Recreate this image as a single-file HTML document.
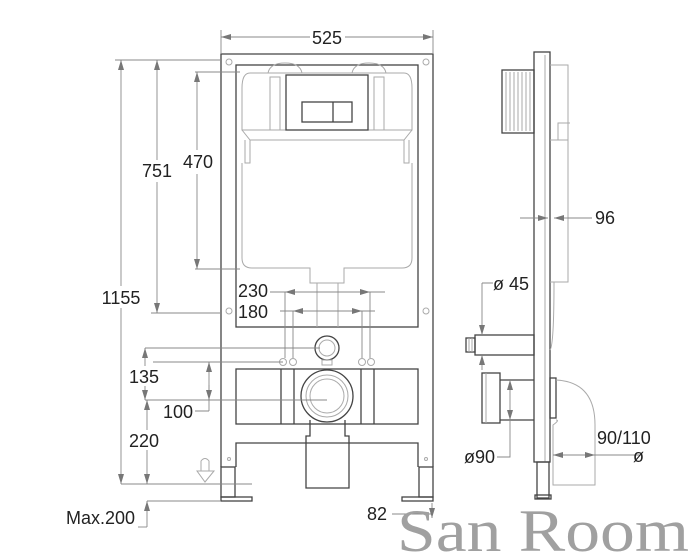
<!DOCTYPE html>
<html><head><style>
html,body{margin:0;padding:0;background:#fff;}
svg{display:block;font-family:"Liberation Sans","DejaVu Sans",sans-serif;}
.f{fill:none;stroke:#444;stroke-width:1.3}
.t{fill:none;stroke:#aaa;stroke-width:1}
.d{fill:none;stroke:#888;stroke-width:0.9}
text{fill:#222;font-size:18px}
</style></head><body>
<svg width="697" height="558" viewBox="0 0 697 558" xmlns="http://www.w3.org/2000/svg">
<defs>
<marker id="a" viewBox="0 0 10 6" refX="10" refY="3" markerWidth="10" markerHeight="6" orient="auto-start-reverse" markerUnits="userSpaceOnUse"><path d="M0,0L10,3L0,6z" fill="#777"/></marker>
</defs>

<!-- FRONT FRAME -->
<path class="f" d="M221,467V54H433V467"/>
<rect class="f" x="236" y="65" width="182" height="262"/>
<path class="f" d="M236,467V443H418V467"/>
<rect class="f" x="221" y="467" width="14" height="30"/><rect class="f" x="221" y="497" width="31" height="4"/>
<rect class="f" x="419" y="467" width="14" height="30"/><rect class="f" x="402" y="497" width="31" height="4"/>
<g class="t"><circle cx="229" cy="62" r="3"/><circle cx="426" cy="62" r="3"/><circle cx="229" cy="311" r="3"/><circle cx="426" cy="311" r="3"/><circle cx="229" cy="459" r="1.5"/><circle cx="426" cy="459" r="1.5"/></g>
<!-- tank -->
<path class="t" d="M268,73Q270,63 285,63Q300,63 302,73M352,73Q354,63 369,63Q384,63 386,73"/>
<path class="t" d="M250,73H404Q412,73 412,88V130H242V88Q242,73 250,73Z"/>
<path class="t" d="M242,130L250,140H404L412,130M245,140V163H250V140M409,140V163H404V140"/>
<path class="t" d="M242,163V258Q242,268 252,268H310V283H344V268H402Q412,268 412,258V163"/>
<rect class="t" x="270" y="77" width="10" height="53"/><rect class="t" x="374" y="77" width="10" height="53"/>
<rect class="f" x="286" y="75" width="82" height="55"/>
<rect class="f" x="302" y="102" width="50" height="20"/><path class="f" d="M333,102V122"/>
<path class="t" d="M317,283V327M338,283V327"/>
<!-- lower -->
<circle class="f" cx="327" cy="348" r="12"/><circle class="t" cx="327" cy="348" r="8"/>
<rect class="t" x="322" y="360" width="10" height="5"/>
<g class="t"><circle cx="283" cy="362" r="3.5"/><circle cx="293" cy="362" r="3.5"/><circle cx="362" cy="362" r="3.5"/><circle cx="371" cy="362" r="3.5"/></g>
<rect class="f" x="236" y="369" width="182" height="55"/>
<path class="f" d="M281,369V424M294,369V424M361,369V424M374,369V424"/>
<circle class="f" cx="327" cy="396" r="26" fill="#fff"/><circle class="t" cx="327" cy="396" r="21"/><circle class="t" cx="327" cy="396" r="17"/>
<path class="f" d="M310,420V436H306V488H349V436H345V420"/>

<!-- dimensions front -->
<path class="d" d="M221,30V54M433,30V54"/>
<path class="d" d="M221,37H310M345,37H433" marker-start="url(#a)" marker-end="url(#a)"/>
<text x="327" y="44" text-anchor="middle">525</text>
<path class="d" d="M115,60H221M195,72H240M195,269H240M151,313H221"/>
<path class="d" d="M121,60V484" marker-start="url(#a)" marker-end="url(#a)"/>
<path class="d" d="M157,60V313" marker-start="url(#a)" marker-end="url(#a)"/>
<path class="d" d="M197,72V269" marker-start="url(#a)" marker-end="url(#a)"/>
<rect x="103" y="286" width="44" height="22" fill="#fff"/><text x="121" y="304" text-anchor="middle">1155</text>
<rect x="137" y="160" width="40" height="22" fill="#fff"/><text x="157" y="177" text-anchor="middle">751</text>
<rect x="180" y="150" width="36" height="24" fill="#fff"/><text x="198" y="168" text-anchor="middle">470</text>
<path class="d" d="M285,292V358M293,311V358M362,311V358M370,292V358"/>
<path class="d" d="M272,292H285M370,292H385M280,311H293M362,311H375"/>
<path class="d" d="M270,292H370" marker-end="url(#a)"/><path class="d" d="M300,292H285" marker-end="url(#a)"/>
<path class="d" d="M340,311H293" marker-end="url(#a)"/><path class="d" d="M320,311H362" marker-end="url(#a)"/>
<text x="238" y="297">230</text><text x="238" y="318">180</text>
<path class="d" d="M145,348H320M153,362H283M145,400H327M121,484H252M147,501H221M195,411H209"/>
<path class="d" d="M145,348V400" marker-start="url(#a)" marker-end="url(#a)"/>
<path class="d" d="M147,400V484" marker-start="url(#a)" marker-end="url(#a)"/>
<path class="d" d="M209,362V411" marker-start="url(#a)"/><path class="d" d="M209,385V400" marker-end="url(#a)"/>
<rect x="128" y="366" width="36" height="20" fill="#fff"/><text x="129" y="383">135</text>
<text x="163" y="418">100</text>
<rect x="128" y="430" width="36" height="20" fill="#fff"/><text x="129" y="447">220</text>
<path class="d" d="M147,527V501" marker-end="url(#a)"/><path class="d" d="M138,527H147"/>
<text x="66" y="524">Max.200</text>
<path class="t" d="M201,471V461Q205,456 209,461V471M197,471H214L205,482Z"/>
<text x="367" y="520">82</text>
<path class="d" d="M392,514H432M432,503V518" marker-end="url(#a)"/>

<!-- SIDE VIEW -->
<rect class="f" x="534" y="52" width="16" height="410"/>
<path class="t" d="M545,55V462"/>
<rect class="f" x="537" y="462" width="12" height="36"/><rect class="f" x="535" y="495" width="16" height="4"/>
<path class="t" d="M550,65H568V282H550M554,282Q554,345 550,350M550,140H568M558,140V123H570"/>
<rect class="f" x="502" y="70" width="32" height="63"/>
<path class="t" d="M506,72V131M510,72V131M514,72V131M518,72V131M522,72V131M526,72V131M530,72V131"/>
<path class="d" d="M534,218H548" marker-end="url(#a)"/><path class="d" d="M568,218H554" marker-end="url(#a)"/><path class="d" d="M520,218H534M568,218H592"/>
<text x="595" y="224">96</text>
<rect class="f" x="475" y="335" width="59" height="20"/>
<rect class="f" x="466" y="338" width="9" height="14"/><path class="t" d="M469,338V352M472,338V352"/>
<path class="d" d="M482,283H493M482,283V335" marker-end="url(#a)"/><path class="d" d="M482,370V355" marker-end="url(#a)"/>
<text x="493" y="290">ø 45</text>
<rect class="f" x="482" y="373" width="18" height="50"/><path class="t" d="M486,373V423"/>
<path class="f" d="M500,380H534M500,420H534"/>
<path class="d" d="M510,380V420" marker-start="url(#a)" marker-end="url(#a)"/><path class="d" d="M510,420V457H497"/>
<text x="464" y="463">ø90</text>
<rect class="f" x="550" y="378" width="6" height="40"/>
<path class="t" d="M556,380Q595,382 595,425V485H553V425Q560,420 556,420"/>
<path class="d" d="M553,455H575" marker-start="url(#a)"/><path class="d" d="M575,455H595" marker-end="url(#a)"/><path class="d" d="M595,455H640"/>
<text x="597" y="444">90/110</text><text x="633" y="462">ø</text>

<text x="397" y="551" textLength="292" lengthAdjust="spacingAndGlyphs" style="font-family:'Liberation Serif',serif;font-size:60px;fill:#a0a0a0">San Room</text>
</svg>
</body></html>
